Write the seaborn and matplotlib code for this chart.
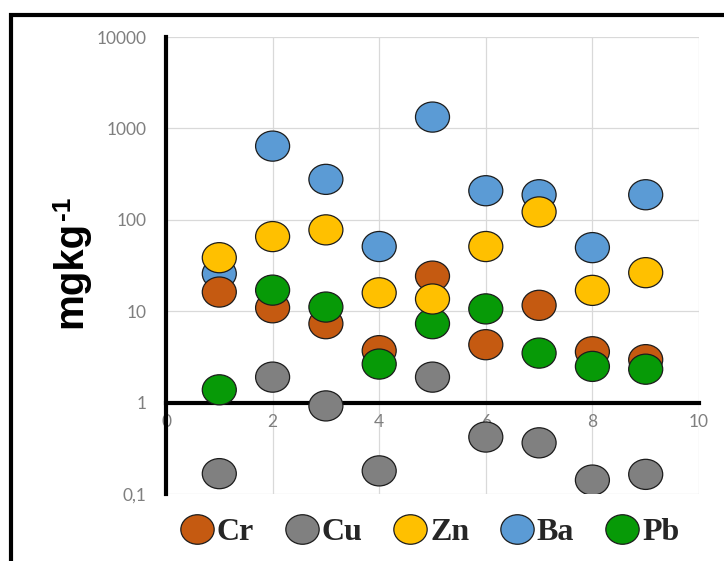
import numpy as np
import pandas as pd
import matplotlib
matplotlib.use("Agg")
import matplotlib.pyplot as plt
import seaborn as sns
from matplotlib.path import Path
from matplotlib.markers import MarkerStyle
from matplotlib.lines import Line2D
from matplotlib.patches import Rectangle

# ---------------- data ----------------
sites = [1, 2, 3, 4, 5, 6, 7, 8, 9]
cr = [16.2, 10.9, 7.3, 3.7, 24.2, 4.3, 11.6, 3.6, 2.95]
cu = [0.167, 1.9, 0.92, 0.179, 1.9, 0.42, 0.363, 0.142, 0.164]
zn = [38.5, 65.5, 77.6, 15.9, 13.6, 51.0, 122.0, 16.9, 26.4]
ba = [25.7, 640.0, 277.0, 51.0, 1330.0, 208.0, 188.0, 49.6, 188.0]
pb = [1.38, 17.0, 11.1, 2.64, 7.3, 10.6, 3.48, 2.49, 2.32]

legend_order = ["Cr", "Cu", "Zn", "Ba", "Pb"]
draw_order = ["Ba", "Cu", "Cr", "Pb", "Zn"]
series = {"Cr": cr, "Cu": cu, "Zn": zn, "Ba": ba, "Pb": pb}
colors = {"Cr": "#C55A11", "Cu": "#808080", "Zn": "#FFC000",
          "Ba": "#5B9BD5", "Pb": "#079A07"}

yticks = [0.1, 1, 10, 100, 1000, 10000]
ytick_labels = ["0,1", "1", "10", "100", "1000", "10000"]
xticks = [0, 2, 4, 6, 8, 10]
xtick_labels = ["0", "2", "4", "6", "8", "10"]

df = pd.concat(
    [pd.DataFrame({"x": sites, "value": series[m], "metal": m}) for m in draw_order],
    ignore_index=True,
)

# ---------------- style ----------------
sns.set_style("white")
plt.rcParams["font.family"] = ["Lato", "DejaVu Sans"]

W, H = 724, 561
fig = plt.figure(figsize=(W / 100, H / 100), dpi=100)
fig.patch.set_facecolor("white")

left, right, top, bottom = 166, 699, 37, 494
ax = fig.add_axes([left / W, 1 - bottom / H, (right - left) / W, (bottom - top) / H])

circ = Path.unit_circle()
ell = Path(circ.vertices * np.array([1.13, 1.0]), circ.codes)
ell_marker = MarkerStyle(ell)

sns.scatterplot(
    data=df, x="x", y="value", hue="metal", hue_order=legend_order,
    palette=colors, marker=ell_marker, s=600, edgecolor="#1c1c1c",
    linewidth=0.9, legend=False, ax=ax, zorder=3,
)

ax.set_yscale("log")
ax.set_ylim(0.1, 10000)
ax.set_xlim(0, 10)
ax.set_yticks(yticks)
ax.set_yticklabels(ytick_labels)
ax.yaxis.set_minor_locator(matplotlib.ticker.NullLocator())
ax.set_xticks(xticks)
ax.set_xticklabels(xtick_labels)
ax.set_xlabel("")
ax.set_ylabel("")

ax.grid(True, color="#d9d9d9", linewidth=0.9)
ax.set_axisbelow(True)

for s in ["top", "right"]:
    ax.spines[s].set_visible(False)
ax.spines["left"].set_color("black")
ax.spines["left"].set_linewidth(3)
ax.spines["bottom"].set_position(("data", 1))
ax.spines["bottom"].set_color("black")
ax.spines["bottom"].set_linewidth(3)
ax.spines["left"].set_zorder(4)
ax.spines["bottom"].set_zorder(2.5)

ax.tick_params(axis="both", length=0, labelsize=12.5, labelcolor="#7f7f7f")
ax.tick_params(axis="y", pad=14)
ax.tick_params(axis="x", pad=8)

# y-axis title: "mgkg" with a small raised "-1"
t1 = fig.text(81 / W, 1 - 328 / H, "mgkg", rotation=90, rotation_mode="anchor",
              ha="left", va="baseline", fontsize=29, fontweight="bold",
              family="Liberation Sans", color="black")
fig.canvas.draw()
bb = t1.get_window_extent(fig.canvas.get_renderer())
fig.text(70 / W, (bb.y1 + 0.5) / H, "-1", rotation=90, rotation_mode="anchor",
         ha="left", va="baseline", fontsize=19, fontweight="bold",
         family="Liberation Sans", color="black")

# legend
handles = [
    Line2D([], [], linestyle="none", marker=ell_marker, markersize=24,
           markerfacecolor=colors[m], markeredgecolor="#1c1c1c", markeredgewidth=0.9)
    for m in legend_order
]
fig.legend(
    handles, legend_order, loc="center", bbox_to_anchor=(430 / W, 1 - 532 / H),
    ncol=5, frameon=False, handlelength=1.0, handletextpad=0.12,
    columnspacing=1.0, borderpad=0,
    prop={"family": "Liberation Serif", "weight": "bold", "size": 23},
)

# outer frame (top and left edges visible)
fig.add_artist(Rectangle((11 / W, -0.2), 1.5, 1 - 15 / H + 0.2, fill=False,
                         edgecolor="black", linewidth=3, transform=fig.transFigure))

fig.savefig("out.png", dpi=100, facecolor="white")
